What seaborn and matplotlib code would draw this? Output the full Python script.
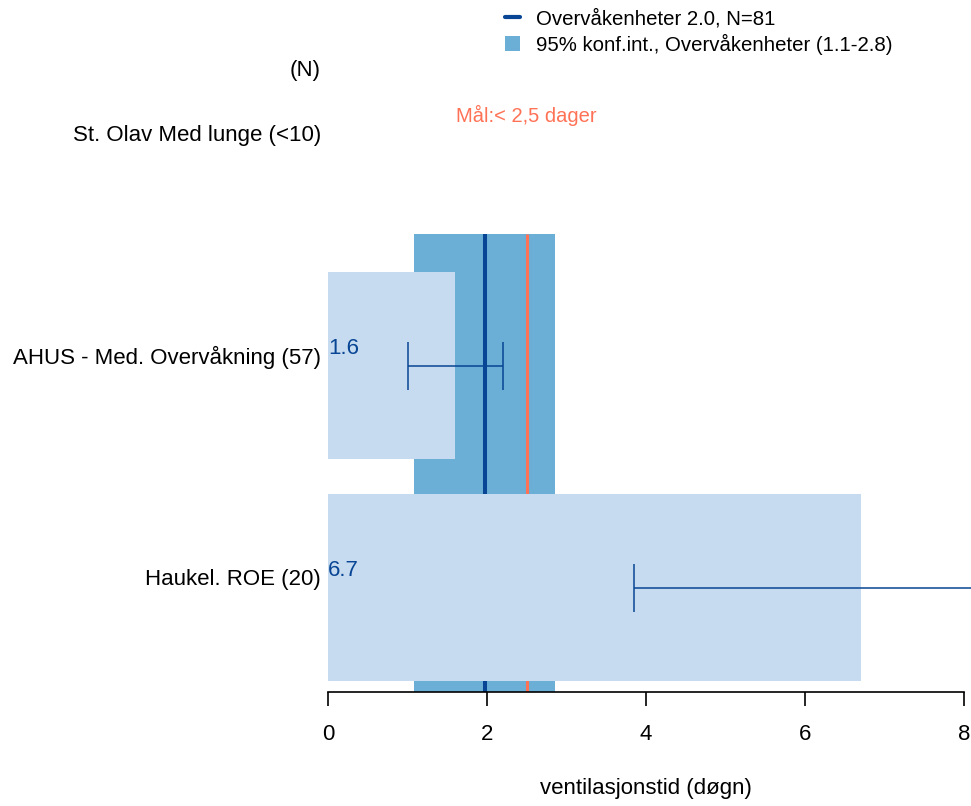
import matplotlib
matplotlib.use("Agg")
import matplotlib.pyplot as plt
import matplotlib.transforms as mtransforms
from matplotlib.lines import Line2D
from matplotlib.patches import Patch
import seaborn as sns
import pandas as pd
import numpy as np

# ---- data ----
categories = ["St. Olav Med lunge (<10)", "AHUS - Med. Overvåkning (57)", "Haukel. ROE (20)"]
values = [np.nan, 1.6, 6.7]
ci_low = [np.nan, 1.0, 3.85]
ci_high = [np.nan, 2.2, 9.5]
value_labels = ["", "1.6", "6.7"]
overall_median = 1.97
overall_ci = (1.08, 2.86)
target = 2.5
legend_labels = ["Overvåkenheter 2.0, N=81", "95% konf.int., Overvåkenheter (1.1-2.8)"]
target_label = "Mål:< 2,5 dager"
xticks = [0, 2, 4, 6, 8]
xlabel = "ventilasjonstid (døgn)"

sns.set_style("white")
plt.rcParams['font.family'] = ['Liberation Sans', 'DejaVu Sans']
plt.rcParams['text.color'] = 'black'
plt.rcParams['axes.labelcolor'] = 'black'
plt.rcParams['xtick.color'] = 'black'

W, H = 971, 806
fig = plt.figure(figsize=(W / 100, H / 100), dpi=100)
ax_left, ax_right = 328 / W, 964 / W
ax_bottom = (H - 691.7) / H
ax = fig.add_axes([ax_left, ax_bottom, ax_right - ax_left, 1 - ax_bottom])

FS = 16
dark = "#084594"
band = "#6BAED6"
light = "#C6DBEF"
salmon = "#FF7256"

y_top, y_bot = -0.646, 2.469
band_top = 0.41

# CI band
ax.fill_betweenx([band_top, y_bot], overall_ci[0], overall_ci[1], color=band, lw=0, zorder=1)

# median & target lines (below bars)
ax.plot([overall_median, overall_median], [band_top, y_bot], color=dark, lw=2.9, zorder=1.5,
        solid_capstyle="butt")
ax.plot([target, target], [band_top, y_bot], color=salmon, lw=2.2, zorder=1.5, solid_capstyle="butt")

# bars via seaborn
df = pd.DataFrame({"cat": categories, "val": values})
sns.barplot(data=df, x="val", y="cat", order=categories, orient="h", color=light,
            saturation=1, width=0.84, errorbar=None, ax=ax, zorder=2, linewidth=0, edgecolor="none")

# error bars
for i in range(len(categories)):
    if np.isnan(values[i]):
        continue
    c = (ci_low[i] + ci_high[i]) / 2
    ax.errorbar([c], [i], xerr=[[c - ci_low[i]], [ci_high[i] - c]], fmt="none",
                ecolor=dark, elinewidth=1.1, capsize=17.5, capthick=1.1, zorder=4, clip_on=False)

ax.set_xlim(0, 8)
ax.set_ylim(y_bot, y_top)

# value labels
for i, t in enumerate(value_labels):
    if t:
        ax.text(0.0, i - 0.075, t, color=dark, fontsize=FS, ha="left", va="center", zorder=5)

# category labels
ax.set_yticks([])
ax.set_ylabel("")
off = mtransforms.offset_copy(ax.transData, fig=fig, x=-7, y=8, units="dots")
for i, cat in enumerate(categories):
    ax.text(0, i, cat, transform=off, ha="right", va="center", fontsize=FS, clip_on=False)
ax.text(0, -0.33, "(N)", transform=mtransforms.offset_copy(ax.transData, fig=fig, x=-7, y=0, units="dots"),
        ha="right", va="center", fontsize=FS, clip_on=False)

ax.text(target, -0.124, target_label, color=salmon, ha="center", va="center", fontsize=14.5)

# axes style
for s in ["top", "right", "left"]:
    ax.spines[s].set_visible(False)
ax.spines["bottom"].set_color("black")
ax.spines["bottom"].set_linewidth(1.2)
ax.set_xticks(xticks)
ax.set_xticklabels([str(t) for t in xticks], fontsize=FS)
ax.tick_params(axis="x", direction="out", length=10, width=1.2, color="black", labelcolor="black",
               pad=13, bottom=True)
ax.set_xlabel(xlabel, fontsize=FS, labelpad=24, color="black")
ax.grid(False)

handles = [Line2D([0], [0], color=dark, lw=3), Patch(facecolor=band, edgecolor="none")]
fig.legend(handles, legend_labels, loc="upper left", bbox_to_anchor=(505 / W, 1 - 9 / H), frameon=False,
           fontsize=14.7, handlelength=0.72, handletextpad=0.8, labelspacing=0.25,
           borderaxespad=0, borderpad=0, labelcolor="black")

fig.savefig("out.png", dpi=100)
